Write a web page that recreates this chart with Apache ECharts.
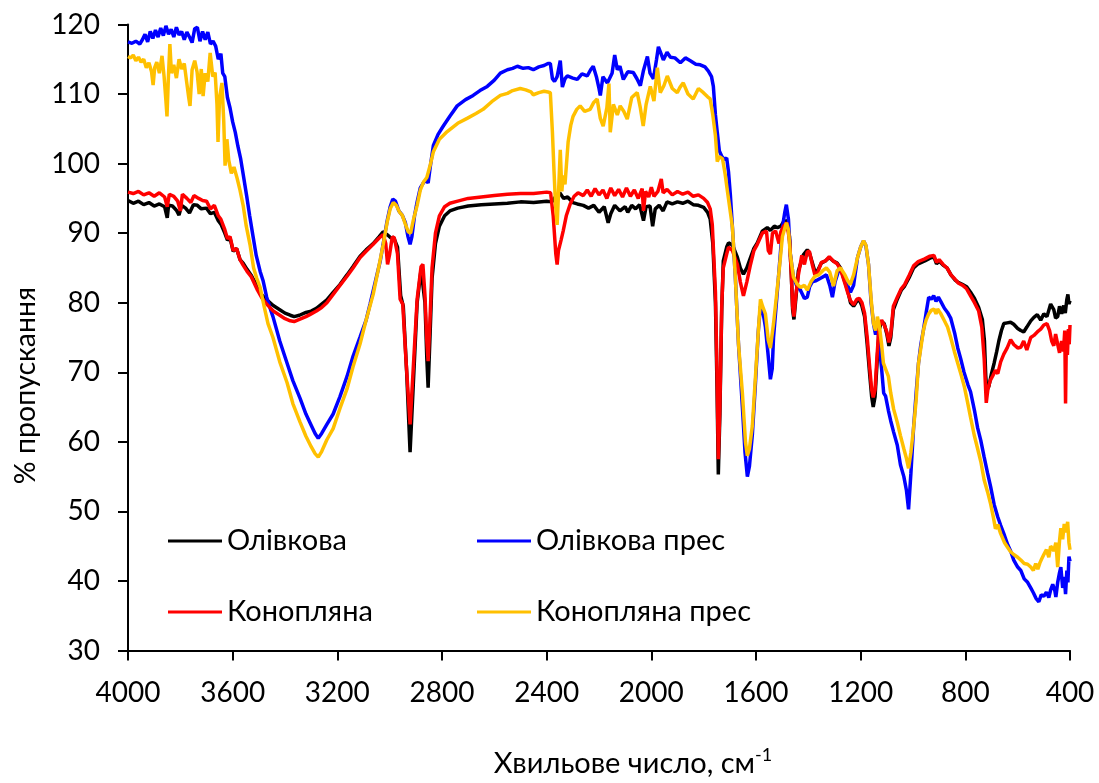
<!DOCTYPE html>
<html><head><meta charset="utf-8">
<script src="https://cdn.jsdelivr.net/npm/echarts@6/dist/echarts.min.js"></script>
<style>html,body{margin:0;padding:0;background:#fff}#c{width:1099px;height:783px}</style>
</head><body><div id="c"></div>
<script>
const seriesNames = ['Олівкова', 'Олівкова прес', 'Конопляна', 'Конопляна прес'];
const xTicks = [4000, 3600, 3200, 2800, 2400, 2000, 1600, 1200, 800, 400];

const olivkova = [[4000,94.7],[3980,94.3],[3960,94.6],[3940,94.1],[3920,94.4],[3900,93.9],[3880,94.2],[3860,93.8],[3850,92.2],[3845,94.0],[3830,93.9],[3815,93.3],[3805,92.6],[3795,94.0],[3780,93.6],[3765,92.9],[3750,94.1],[3735,94.0],[3720,93.5],[3700,93.6],[3685,92.8],[3670,93.0],[3655,91.8],[3645,91.3],[3630,90.0],[3620,89.0],[3610,89.3],[3598,87.4],[3585,87.8],[3572,86.2],[3560,85.7],[3545,84.8],[3530,84.0],[3520,83.3],[3505,82.4],[3490,81.2],[3475,80.6],[3460,80.1],[3445,79.6],[3420,79.0],[3400,78.5],[3380,78.2],[3365,78.0],[3345,78.2],[3320,78.6],[3300,78.8],[3280,79.2],[3260,79.8],[3240,80.4],[3216,81.5],[3190,82.6],[3163,84.0],[3140,85.2],[3113,86.7],[3090,87.6],[3063,88.5],[3040,89.5],[3025,90.2],[3010,89.8],[2995,89.3],[2985,89.4],[2970,88.0],[2958,81.0],[2948,79.5],[2935,70.0],[2922,58.5],[2910,68.0],[2895,80.0],[2880,84.8],[2873,85.0],[2865,80.0],[2858,72.0],[2853,67.8],[2846,75.0],[2838,83.5],[2825,88.5],[2810,91.0],[2790,92.5],[2770,93.2],[2740,93.6],[2700,93.9],[2650,94.1],[2600,94.2],[2550,94.3],[2500,94.5],[2450,94.4],[2400,94.6],[2380,94.5],[2367,95.2],[2350,95.8],[2335,95.0],[2320,95.2],[2300,94.4],[2283,94.2],[2260,94.0],[2240,93.6],[2220,94.0],[2200,93.0],[2180,93.8],[2165,91.5],[2155,92.8],[2140,94.0],[2120,93.2],[2100,93.8],[2090,93.0],[2075,94.0],[2060,93.5],[2045,94.1],[2030,91.8],[2020,93.8],[2005,93.9],[1995,91.0],[1985,93.5],[1970,94.0],[1955,93.2],[1940,94.5],[1920,94.2],[1900,94.5],[1880,94.3],[1860,94.6],[1840,94.1],[1820,94.0],[1800,93.7],[1785,93.0],[1775,92.0],[1765,88.5],[1755,80.0],[1749,68.0],[1744,55.3],[1738,64.0],[1731,79.0],[1725,86.0],[1712,88.0],[1705,88.6],[1690,88.3],[1671,86.5],[1660,85.0],[1648,84.1],[1635,85.0],[1621,86.5],[1608,87.8],[1595,88.6],[1576,90.3],[1557,90.8],[1545,90.4],[1530,91.0],[1518,90.8],[1505,91.0],[1495,91.6],[1482,91.8],[1472,89.5],[1465,84.0],[1460,79.0],[1455,77.6],[1448,80.5],[1438,84.6],[1419,86.9],[1404,87.6],[1396,87.2],[1385,85.8],[1375,84.5],[1365,84.6],[1350,85.7],[1335,86.0],[1320,86.5],[1305,86.0],[1290,85.7],[1277,85.0],[1262,83.2],[1250,81.8],[1239,80.0],[1227,79.5],[1215,80.2],[1205,80.4],[1195,79.5],[1185,78.0],[1175,74.0],[1165,69.5],[1158,66.5],[1152,65.0],[1145,66.5],[1138,71.0],[1130,76.0],[1120,77.3],[1110,77.0],[1100,75.5],[1092,73.8],[1085,75.0],[1075,79.0],[1060,80.5],[1045,81.8],[1032,82.4],[1015,83.6],[998,85.0],[980,85.6],[955,86.0],[935,86.4],[920,86.6],[910,85.6],[900,86.0],[885,85.4],[870,85.0],[855,84.0],[840,83.3],[826,82.9],[810,82.6],[795,82.3],[780,81.5],[765,80.6],[749,79.3],[735,77.6],[727,74.5],[722,69.5],[718,67.4],[710,68.0],[700,69.8],[690,71.3],[680,73.0],[672,74.5],[662,76.0],[653,77.0],[640,77.1],[627,77.2],[615,76.9],[600,76.3],[588,76.0],[577,75.8],[565,76.5],[550,77.4],[538,77.9],[525,78.3],[512,77.5],[500,78.4],[488,78.0],[474,79.8],[462,79.0],[455,77.8],[447,78.0],[440,79.5],[432,78.4],[424,79.6],[418,78.5],[412,80.5],[408,81.2],[404,79.8],[400,80.3]];

const olivkovaPres = [[4000,117.5],[3985,117.3],[3970,117.6],[3955,117.2],[3945,117.8],[3935,118.6],[3925,117.5],[3915,119.0],[3905,118.0],[3895,119.2],[3885,118.2],[3875,119.5],[3865,118.4],[3855,119.8],[3845,118.6],[3835,119.3],[3825,118.2],[3815,119.6],[3805,118.5],[3795,119.0],[3785,117.8],[3775,118.9],[3765,118.2],[3755,117.4],[3745,119.4],[3735,119.6],[3725,117.6],[3715,119.0],[3705,117.8],[3695,118.9],[3685,117.2],[3675,117.6],[3665,116.9],[3655,115.0],[3645,115.8],[3638,113.0],[3630,112.5],[3620,109.5],[3610,108.0],[3600,106.0],[3590,104.5],[3580,102.5],[3570,100.8],[3560,98.5],[3545,95.0],[3535,92.5],[3522,89.5],[3510,86.8],[3495,84.5],[3484,83.2],[3470,80.8],[3455,79.0],[3446,78.0],[3420,74.5],[3392,71.3],[3370,68.8],[3342,66.2],[3320,64.0],[3300,62.4],[3285,61.2],[3273,60.5],[3260,61.2],[3240,62.5],[3216,64.0],[3190,66.5],[3163,69.4],[3140,72.3],[3113,75.1],[3090,77.5],[3075,79.8],[3055,83.0],[3036,86.0],[3020,89.5],[3010,91.7],[2998,93.8],[2988,94.9],[2978,94.6],[2965,93.2],[2952,92.6],[2940,91.5],[2930,89.5],[2922,88.4],[2915,89.5],[2905,92.5],[2895,94.5],[2883,96.5],[2870,97.3],[2860,97.6],[2853,97.2],[2845,99.5],[2833,102.6],[2815,104.2],[2795,105.4],[2770,106.8],[2742,108.3],[2710,109.2],[2681,109.8],[2655,110.5],[2627,111.1],[2600,112.0],[2577,113.0],[2550,113.5],[2530,113.7],[2512,114.0],[2490,113.7],[2470,113.8],[2451,113.5],[2430,113.9],[2410,114.1],[2395,114.4],[2386,114.4],[2378,112.2],[2370,111.8],[2360,112.5],[2348,114.8],[2340,111.0],[2330,112.2],[2321,112.6],[2300,112.3],[2283,112.1],[2265,112.9],[2245,112.6],[2232,113.5],[2222,114.0],[2210,112.5],[2200,110.8],[2195,109.8],[2185,112.5],[2168,111.6],[2150,113.0],[2140,115.6],[2130,113.5],[2120,114.0],[2107,112.1],[2090,113.2],[2069,113.1],[2055,112.2],[2042,111.2],[2030,113.4],[2015,115.4],[2005,113.0],[1992,112.2],[1980,115.0],[1973,116.8],[1963,115.8],[1954,114.9],[1940,116.0],[1927,115.3],[1910,115.2],[1889,114.5],[1870,115.2],[1851,114.8],[1830,114.3],[1813,114.2],[1795,113.9],[1782,113.3],[1770,112.5],[1763,111.1],[1755,107.0],[1748,104.5],[1740,101.8],[1730,101.0],[1720,100.6],[1712,100.8],[1705,98.8],[1698,95.5],[1690,90.8],[1679,83.7],[1667,74.1],[1652,65.0],[1642,58.5],[1633,55.0],[1625,56.5],[1614,61.0],[1602,68.5],[1591,76.0],[1583,79.5],[1575,79.0],[1564,76.5],[1555,73.0],[1545,69.0],[1538,70.5],[1533,75.0],[1514,83.7],[1499,90.8],[1490,93.0],[1484,94.1],[1476,92.0],[1469,87.0],[1457,83.7],[1445,82.5],[1430,81.8],[1415,80.6],[1404,80.8],[1395,82.3],[1385,83.0],[1369,83.2],[1350,83.6],[1331,84.0],[1318,82.5],[1308,80.8],[1298,83.0],[1281,85.0],[1265,84.0],[1250,82.5],[1239,81.5],[1227,82.5],[1212,86.5],[1200,88.0],[1189,88.9],[1180,88.2],[1170,85.5],[1160,80.0],[1151,77.0],[1143,75.4],[1136,77.0],[1128,73.5],[1120,70.5],[1112,67.0],[1105,66.6],[1094,64.5],[1085,63.0],[1074,61.4],[1060,59.5],[1048,56.7],[1035,55.0],[1025,53.0],[1017,50.3],[1008,55.5],[998,61.9],[988,67.0],[979,71.3],[970,74.0],[960,76.1],[950,78.5],[940,80.8],[930,80.5],[921,81.0],[912,80.2],[903,80.8],[894,80.2],[880,79.2],[868,78.6],[856,77.8],[840,75.5],[829,73.5],[818,72.0],[805,70.0],[790,68.2],[780,67.2],[765,64.5],[753,62.0],[741,60.2],[728,57.8],[715,55.5],[703,53.5],[690,51.0],[676,49.2],[665,48.0],[650,46.5],[638,45.2],[627,44.3],[615,43.0],[600,42.0],[588,41.5],[575,40.3],[562,39.8],[550,39.0],[540,38.3],[530,37.5],[519,37.0],[510,38.0],[500,37.8],[490,38.4],[481,37.6],[474,38.7],[466,39.5],[458,38.6],[454,37.7],[447,39.8],[440,41.2],[435,42.0],[428,39.0],[422,40.6],[417,38.1],[412,41.5],[408,39.8],[404,43.5],[400,42.8]];

const konoplyana = [[4000,95.9],[3980,95.7],[3960,96.0],[3940,95.5],[3920,95.8],[3900,95.3],[3880,95.8],[3860,95.2],[3850,93.8],[3842,95.6],[3825,95.3],[3810,94.6],[3800,93.2],[3792,95.6],[3775,95.0],[3760,94.4],[3748,95.4],[3730,95.0],[3715,94.7],[3700,94.6],[3685,93.5],[3670,94.0],[3655,92.5],[3645,92.0],[3630,90.5],[3620,89.2],[3610,89.5],[3598,87.5],[3585,87.8],[3572,86.2],[3560,85.4],[3545,84.5],[3530,83.8],[3520,83.0],[3505,81.8],[3490,80.8],[3475,80.0],[3460,79.4],[3445,78.8],[3420,78.2],[3400,77.7],[3380,77.4],[3365,77.3],[3345,77.6],[3320,78.0],[3300,78.4],[3280,78.8],[3260,79.3],[3240,80.0],[3216,81.2],[3190,82.5],[3163,83.8],[3140,85.0],[3113,86.5],[3090,87.4],[3063,88.4],[3040,89.3],[3025,89.8],[3015,88.5],[3008,85.5],[3000,87.0],[2990,89.5],[2982,89.3],[2970,87.0],[2960,80.5],[2950,79.8],[2938,72.0],[2922,62.5],[2910,70.5],[2895,80.5],[2880,85.2],[2873,85.5],[2865,81.0],[2858,74.5],[2853,71.6],[2846,77.5],[2838,85.0],[2825,90.0],[2810,92.5],[2790,93.8],[2770,94.3],[2740,94.6],[2700,95.0],[2650,95.2],[2600,95.4],[2550,95.6],[2500,95.7],[2450,95.7],[2400,95.9],[2385,95.8],[2375,92.5],[2365,87.0],[2360,85.5],[2355,87.5],[2345,89.0],[2337,90.3],[2325,92.5],[2310,94.2],[2295,95.3],[2280,95.8],[2260,95.4],[2245,96.2],[2230,95.3],[2215,96.4],[2200,95.5],[2185,96.2],[2170,95.0],[2155,96.5],[2140,95.4],[2125,96.3],[2110,95.2],[2095,96.5],[2080,95.3],[2065,96.2],[2050,95.0],[2035,96.4],[2030,93.2],[2022,96.0],[2010,95.2],[2000,96.6],[1990,95.3],[1975,96.0],[1962,97.8],[1955,95.8],[1940,96.3],[1920,95.5],[1900,96.0],[1880,95.6],[1860,95.9],[1840,95.3],[1820,95.5],[1800,95.0],[1785,94.4],[1775,93.5],[1767,91.2],[1755,81.5],[1749,70.0],[1744,57.5],[1738,65.0],[1731,79.5],[1725,85.0],[1712,87.0],[1705,88.0],[1690,87.5],[1671,85.5],[1660,83.0],[1648,81.0],[1635,83.0],[1621,85.5],[1608,87.5],[1595,88.4],[1576,90.0],[1560,90.3],[1553,87.5],[1545,87.0],[1537,90.0],[1525,90.3],[1512,88.5],[1505,90.2],[1495,91.0],[1482,91.5],[1472,89.0],[1465,84.0],[1460,79.5],[1455,78.0],[1448,81.0],[1438,84.0],[1425,86.8],[1415,85.5],[1404,87.3],[1396,87.4],[1385,85.5],[1375,84.0],[1365,84.3],[1350,85.8],[1335,86.0],[1320,86.6],[1305,86.0],[1290,85.6],[1277,84.8],[1262,83.0],[1250,81.5],[1239,80.3],[1227,79.7],[1215,80.5],[1205,80.6],[1195,80.0],[1185,78.5],[1175,75.0],[1165,70.5],[1158,67.5],[1152,66.4],[1145,67.5],[1138,72.0],[1130,76.5],[1120,77.5],[1110,76.8],[1100,75.8],[1092,74.3],[1085,75.5],[1075,79.5],[1060,80.8],[1045,82.0],[1032,82.6],[1015,83.9],[998,85.3],[980,85.9],[955,86.3],[935,86.7],[920,86.8],[910,85.8],[900,86.2],[885,85.5],[870,85.0],[855,84.0],[840,83.4],[826,82.8],[810,82.5],[795,82.0],[780,81.0],[765,80.0],[749,78.8],[737,76.5],[728,72.0],[720,65.6],[714,67.5],[705,68.8],[695,69.5],[685,70.3],[676,69.8],[665,71.5],[653,72.6],[640,73.5],[627,74.7],[615,74.0],[600,73.5],[588,73.6],[577,74.5],[565,73.2],[550,75.0],[538,75.3],[525,75.8],[512,76.2],[500,76.8],[488,77.0],[478,76.0],[470,74.5],[462,73.8],[455,75.5],[447,74.0],[440,72.8],[432,74.5],[425,73.0],[420,76.0],[417,65.5],[414,74.8],[410,72.5],[406,76.2],[403,74.0],[400,76.8]];

const konoplyanaPres = [[4000,115.4],[3990,115.2],[3980,115.6],[3970,114.8],[3960,115.3],[3950,114.6],[3940,115.0],[3930,113.8],[3920,114.5],[3910,113.2],[3904,111.3],[3898,113.8],[3890,114.6],[3880,113.0],[3870,115.5],[3862,112.5],[3855,109.0],[3851,106.8],[3846,112.0],[3840,117.2],[3834,113.0],[3825,114.2],[3815,112.3],[3805,115.0],[3795,113.6],[3785,114.4],[3775,111.5],[3768,109.5],[3763,108.3],[3755,113.5],[3745,114.8],[3736,113.2],[3728,110.0],[3720,113.6],[3713,109.7],[3705,113.0],[3695,111.8],[3686,115.9],[3676,112.5],[3667,113.1],[3660,108.5],[3656,103.1],[3650,109.5],[3641,111.6],[3634,106.0],[3629,99.7],[3622,103.5],[3615,100.5],[3605,98.6],[3595,99.5],[3583,97.9],[3572,96.2],[3560,94.0],[3548,91.0],[3533,88.2],[3520,85.0],[3508,83.5],[3495,82.2],[3480,79.5],[3465,77.0],[3446,75.0],[3420,71.5],[3392,68.5],[3370,65.5],[3342,62.8],[3320,60.8],[3300,59.3],[3285,58.3],[3273,57.8],[3260,58.6],[3240,60.3],[3216,61.9],[3190,64.8],[3163,67.6],[3140,70.8],[3113,74.1],[3090,77.5],[3063,81.2],[3045,84.5],[3025,88.3],[3010,91.5],[2998,93.5],[2986,94.4],[2975,94.0],[2962,93.0],[2952,92.6],[2940,91.3],[2929,90.2],[2920,90.0],[2910,91.8],[2895,94.0],[2883,96.2],[2870,97.4],[2858,98.0],[2845,99.8],[2833,101.7],[2810,103.5],[2780,104.6],[2740,105.8],[2704,106.5],[2670,107.2],[2643,107.8],[2610,108.9],[2577,109.8],[2550,110.1],[2530,110.5],[2501,110.8],[2480,110.6],[2460,110.3],[2451,109.9],[2430,110.2],[2410,110.4],[2395,110.3],[2386,110.2],[2378,104.5],[2372,99.0],[2366,94.0],[2360,91.2],[2355,95.5],[2348,102.0],[2342,96.0],[2337,98.3],[2330,97.0],[2318,103.1],[2308,105.5],[2299,106.8],[2285,107.8],[2272,108.3],[2255,107.5],[2234,107.8],[2220,108.8],[2207,109.3],[2195,106.5],[2184,105.4],[2170,108.0],[2162,111.5],[2157,104.5],[2145,108.5],[2130,107.0],[2119,108.3],[2105,107.5],[2092,106.4],[2075,109.5],[2054,110.2],[2042,108.0],[2031,105.4],[2020,108.5],[2004,111.1],[1990,109.0],[1977,113.8],[1966,110.2],[1952,111.2],[1939,112.6],[1920,110.8],[1901,110.2],[1890,111.0],[1878,111.6],[1860,110.0],[1840,109.3],[1820,110.8],[1801,110.2],[1785,109.6],[1775,109.3],[1765,107.0],[1755,104.0],[1748,100.3],[1740,101.0],[1728,100.7],[1718,98.5],[1709,96.0],[1698,93.0],[1690,90.8],[1679,83.7],[1667,74.1],[1652,67.0],[1640,59.9],[1633,58.0],[1625,59.0],[1614,62.3],[1602,69.4],[1591,76.0],[1583,80.5],[1575,79.5],[1564,78.4],[1553,74.6],[1545,73.5],[1533,77.0],[1514,83.7],[1499,89.5],[1484,91.5],[1476,90.5],[1469,87.0],[1457,83.7],[1445,82.8],[1430,82.2],[1415,82.5],[1404,81.8],[1390,83.0],[1375,83.8],[1360,84.0],[1345,84.6],[1331,85.0],[1318,84.4],[1304,82.4],[1290,84.6],[1277,85.0],[1260,84.0],[1250,83.2],[1240,82.6],[1227,84.0],[1212,86.5],[1200,88.0],[1189,88.9],[1180,88.3],[1170,85.5],[1160,80.5],[1151,77.0],[1143,76.0],[1136,78.0],[1128,76.5],[1120,74.0],[1113,71.3],[1105,70.5],[1094,69.4],[1085,67.0],[1074,64.7],[1060,62.8],[1048,60.9],[1035,59.0],[1025,57.6],[1017,56.2],[1008,58.5],[998,61.9],[988,66.0],[979,71.3],[970,73.5],[960,76.1],[950,77.5],[940,78.4],[930,78.9],[920,79.1],[912,78.4],[906,79.1],[895,78.5],[880,77.4],[868,76.5],[856,75.0],[842,73.0],[829,71.3],[815,69.5],[803,67.8],[791,65.6],[780,63.5],[765,60.8],[753,59.0],[740,57.0],[728,54.5],[715,52.8],[703,51.0],[692,49.0],[685,47.5],[676,48.1],[665,46.8],[650,45.5],[638,44.8],[627,44.2],[615,43.8],[600,43.4],[588,43.0],[575,42.5],[562,42.4],[550,42.0],[540,41.5],[531,42.5],[523,41.7],[515,42.6],[508,43.2],[500,43.8],[490,44.5],[481,43.4],[474,45.0],[466,44.6],[462,44.3],[454,45.5],[447,42.0],[440,45.8],[435,47.6],[428,46.0],[422,48.2],[415,47.0],[409,48.5],[404,45.5],[400,44.5]];

const seriesData = [olivkova, olivkovaPres, konoplyana, konoplyanaPres];
const colors = ['#000000', '#0000FF', '#FF0000', '#FFC000'];
const FONT = 'Lato';

const chart = echarts.init(document.getElementById('c'), null, {renderer: 'canvas'});
chart.setOption({
  animation: false,
  backgroundColor: '#fff',
  textStyle: {fontFamily: FONT},
  grid: {left: 128, right: 29, top: 24.5, bottom: 126, containLabel: false},
  legend: [
    {data: [seriesNames[0], seriesNames[2]], orient: 'vertical', left: 163, top: 521,
     itemWidth: 54, itemHeight: 3, icon: 'rect', itemGap: 41,
     textStyle: {fontFamily: FONT, fontSize: 29, color: '#000', lineHeight: 30}},
    {data: [seriesNames[1], seriesNames[3]], orient: 'vertical', left: 472, top: 521,
     itemWidth: 54, itemHeight: 3, icon: 'rect', itemGap: 41,
     textStyle: {fontFamily: FONT, fontSize: 29, color: '#000', lineHeight: 30}}
  ],
  xAxis: {
    type: 'value', inverse: true, min: 400, max: 4000, interval: 400,
    name: '{a|Хвильове число, см}{s|-1}', nameLocation: 'middle', nameGap: 96,
    nameTextStyle: {rich: {
      a: {fontFamily: FONT, fontSize: 29, color: '#000', padding: [0,0,0,68]},
      s: {fontFamily: FONT, fontSize: 18, color: '#000', verticalAlign: 'top', padding: [0,0,16,0]}}},
    axisLine: {onZero: false, lineStyle: {color: '#000', width: 2}},
    axisTick: {show: true, inside: false, length: 10, lineStyle: {color: '#000', width: 2}},
    splitLine: {show: false},
    axisLabel: {fontFamily: FONT, fontSize: 28, color: '#000', margin: 28,
      formatter: v => xTicks.includes(v) ? String(v) : ''}
  },
  yAxis: {
    type: 'value', min: 30, max: 120, interval: 10,
    name: '% пропускання', nameLocation: 'middle', nameGap: 86, nameRotate: 90,
    nameTextStyle: {fontFamily: FONT, fontSize: 28.5, color: '#000', padding: [0, 96, 0, 0]},
    axisLine: {show: true, onZero: false, lineStyle: {color: '#000', width: 2}},
    axisTick: {show: true, inside: false, length: 10, lineStyle: {color: '#000', width: 2}},
    splitLine: {show: false},
    axisLabel: {fontFamily: FONT, fontSize: 28, color: '#000', margin: 28}
  },
  series: seriesNames.map((n, i) => ({
    name: n, type: 'line', data: seriesData[i], showSymbol: false, symbol: 'none',
    lineStyle: {color: colors[i], width: 3.5}, itemStyle: {color: colors[i]},
    z: 2 + i
  }))
});
</script></body></html>
